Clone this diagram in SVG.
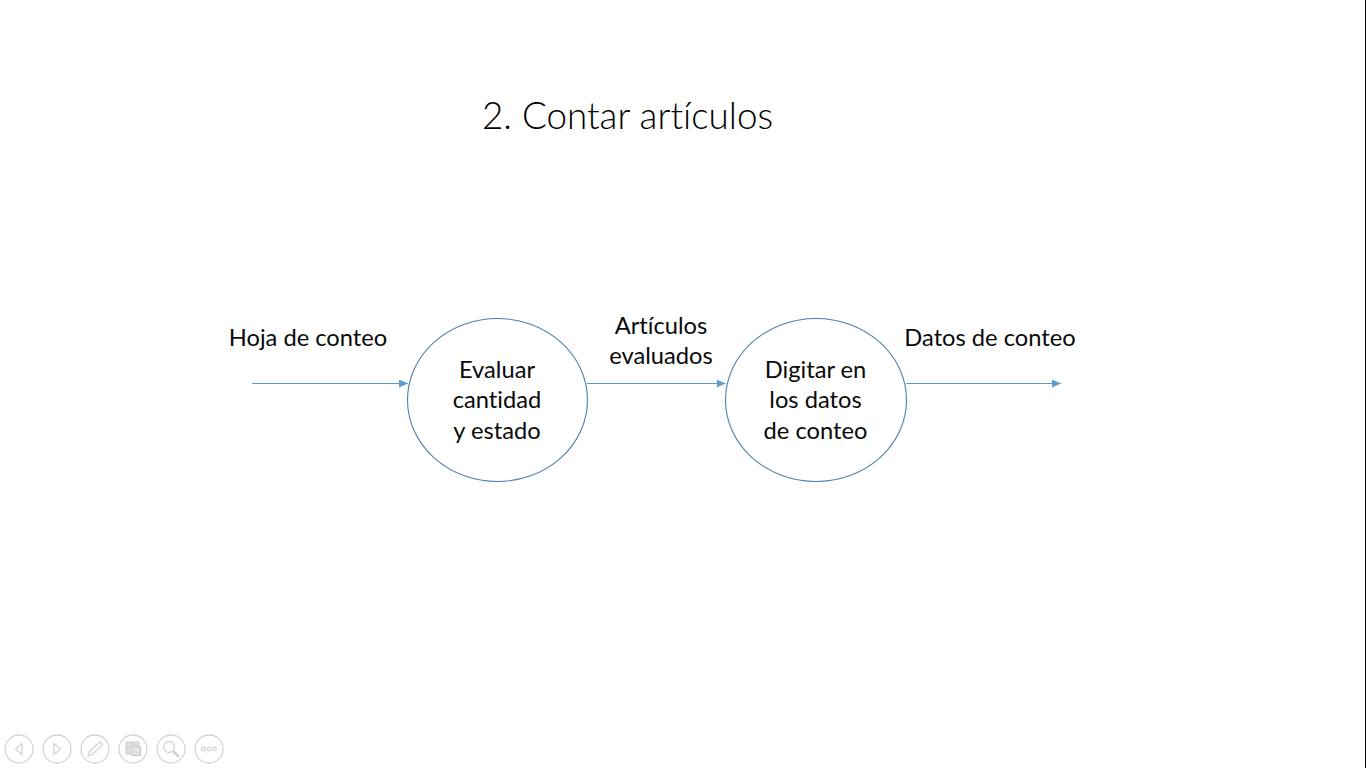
<svg xmlns="http://www.w3.org/2000/svg" width="1366" height="768" viewBox="0 0 1366 768">
<style>
text{font-family:"Lato","Open Sans",sans-serif;fill:#0a0a0a;font-size:23.700px;text-anchor:middle;font-variant-ligatures:none}
.title{font-size:36.800px;font-weight:300;text-anchor:start;fill:#000}
.node{fill:#fff;stroke:#4f7fb5;stroke-width:1.1}
.conn{stroke:#5b9bd0;stroke-width:1.2;fill:none;marker-end:url(#arrow)}
.ic{fill:none;stroke:#d4d4d4;stroke-width:1.3}
.if{fill:#e2e2e2;stroke:#c8c8c8;stroke-width:1}
</style>
<defs>
<marker id="arrow" markerUnits="userSpaceOnUse" markerWidth="9" markerHeight="8" refX="9" refY="4" orient="auto"><path d="M0 0L9 4L0 8Z" fill="#5b9bd0"/></marker>
</defs>
<rect width="1366" height="768" fill="#fff"/>
<rect x="1365" y="0" width="1" height="768" fill="#000"/>
<text class="title" x="482" y="129">2. Contar artículos</text>
<g id="connectors">
<line class="conn" x1="252" y1="383.500" x2="408" y2="383.500"/>
<line class="conn" x1="587" y1="383.500" x2="725.500" y2="383.500"/>
<line class="conn" x1="906" y1="383.500" x2="1061" y2="383.500"/>
</g>
<g id="node-evaluar">
<ellipse class="node" cx="497.500" cy="400" rx="90" ry="81.500"/>
<text x="497" y="378">Evaluar</text>
<text x="497" y="408">cantidad</text>
<text x="497" y="439">y estado</text>
</g>
<g id="node-digitar">
<ellipse class="node" cx="816" cy="400" rx="90.500" ry="81.500"/>
<text x="815.500" y="378">Digitar en</text>
<text x="815.500" y="408">los datos</text>
<text x="815.500" y="439">de conteo</text>
</g>
<g id="label-hoja"><text x="308" y="346">Hoja de conteo</text></g>
<g id="label-articulos">
<text x="661" y="334">Artículos</text>
<text x="661" y="364">evaluados</text>
</g>
<g id="label-datos"><text x="990" y="346">Datos de conteo</text></g>
<g id="toolbar">
<circle class="ic" cx="19" cy="749" r="14"/><path class="ic" d="M22 743.500L15.500 749L22 754.500Z"/>
<circle class="ic" cx="57" cy="749" r="14"/><path class="ic" d="M54 743.500L60.500 749L54 754.500Z"/>
<circle class="ic" cx="95" cy="749" r="14"/><path class="ic" d="M88 756L90 751L100 742L102.500 744.500L93 754Z"/>
<circle class="ic" cx="133" cy="749" r="14"/><path class="if" d="M126 742h6v5h-6zM126 748h4v6h-4zM133 742h6v3h-6zM131.500 746.500h9v9h-9z"/>
<circle class="ic" cx="171" cy="749" r="14"/><circle class="ic" cx="169" cy="747" r="5.500"/><path d="M173 751L179 757" stroke="#d0d0d0" stroke-width="2.500"/>
<circle class="ic" cx="209" cy="749" r="14"/><circle class="ic" cx="203.500" cy="749" r="1.800"/><circle class="ic" cx="209" cy="749" r="1.800"/><circle class="ic" cx="214.500" cy="749" r="1.800"/>
</g>
</svg>
